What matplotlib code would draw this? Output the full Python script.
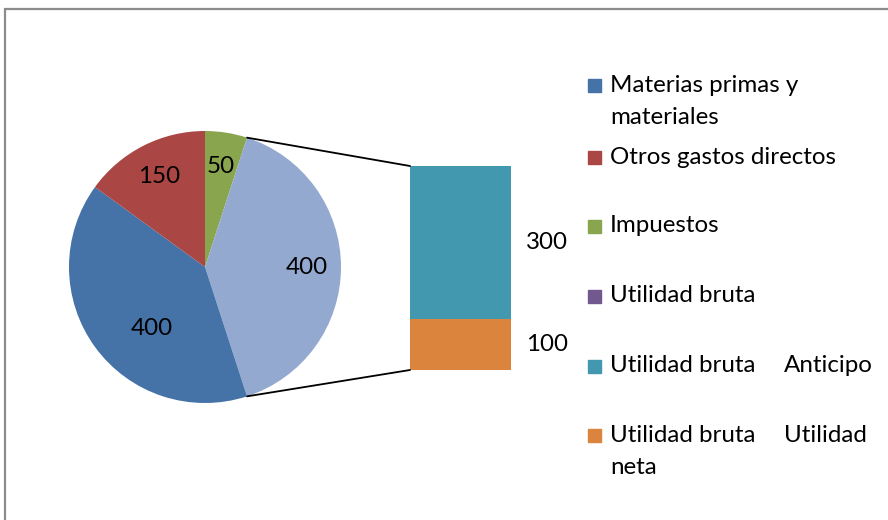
import numpy as np
import matplotlib.pyplot as plt
from matplotlib.patches import Rectangle, ConnectionPatch

plt.rcParams['font.family'] = ['Lato', 'DejaVu Sans']

# --- data ---
pie_labels = ["Impuestos", "Otros", "Materias primas y materiales", "Otros gastos directos"]
pie_values = [50, 400, 400, 150]
pie_colors = ["#89A54E", "#93A9CF", "#4572A7", "#AA4643"]

bar_labels = ["Utilidad neta", "Anticipo"]
bar_values = [100, 300]
bar_colors = ["#DB843D", "#4198AF"]

# '\t' = excel tab stop, '\n' = wrapped line
legend_labels = ["Materias primas y\nmateriales", "Otros gastos directos", "Impuestos",
                 "Utilidad bruta", "Utilidad bruta\tAnticipo",
                 "Utilidad bruta\tUtilidad\nneta"]
legend_colors = ["#4572A7", "#AA4643", "#89A54E", "#71588F", "#4198AF", "#DB843D"]

W, H = 888, 520
FS = 17.4
fig = plt.figure(figsize=(W / 100, H / 100), dpi=100)

# overlay axes in pixel coords for border + legend
ov = fig.add_axes([0, 0, 1, 1])
ov.set_xlim(0, W)
ov.set_ylim(H, 0)
ov.axis('off')
ov.plot([5, 5, W], [H, 9, 9], color="#8C8C8C", lw=1.6, solid_joinstyle='miter')

# --- pie ---
cx, cy, r = 205, 267, 136
ax_pie = fig.add_axes([(cx - r) / W, (H - cy - r) / H, 2 * r / W, 2 * r / H])
wedges, texts = ax_pie.pie(pie_values, colors=pie_colors, startangle=90, counterclock=False,
                           labels=[str(v) for v in pie_values], labeldistance=0.75,
                           textprops=dict(fontsize=FS, color="black", ha='center', va='center'))
ax_pie.set_xlim(-1, 1)
ax_pie.set_ylim(-1, 1)
# excel puts the big dark-blue label a bit closer to the centre
texts[2].set_position((-0.39, -0.45))

# --- bar ---
bx0, bx1, by0, by1 = 410, 511, 166, 370
ax_bar = fig.add_axes([bx0 / W, (H - by1) / H, (bx1 - bx0) / W, (by1 - by0) / H])
bottom = 0
for v, c in zip(bar_values, bar_colors):
    ax_bar.bar(0, v, bottom=bottom, width=1, color=c)
    ax_bar.annotate(str(v), xy=(0.5, bottom + v / 2), xytext=(11, 0), textcoords='offset points',
                    ha='left', va='center', fontsize=FS)
    bottom += v
ax_bar.set_xlim(-0.5, 0.5)
ax_bar.set_ylim(0, sum(bar_values))
ax_bar.axis('off')

# --- connector lines from the "Otros" wedge to the bar ---
w = wedges[1]
for ang, yb in [(w.theta2, sum(bar_values)), (w.theta1, 0)]:
    a = np.deg2rad(ang)
    con = ConnectionPatch(xyA=(np.cos(a), np.sin(a)), coordsA=ax_pie.transData,
                          xyB=(-0.5, yb), coordsB=ax_bar.transData, color="black", lw=1.3)
    fig.add_artist(con)

# --- legend (manual, excel-like spacing) ---
leg_y = [85, 157, 226, 296, 366, 435]
for lab, c, y in zip(legend_labels, legend_colors, leg_y):
    ov.add_patch(Rectangle((588, y - 6.5), 13, 13, color=c))
    for i, line in enumerate(lab.split("\n")):
        for j, part in enumerate(line.split("\t")):
            ov.text(610 if j == 0 else 784, y + i * 32, part, ha='left', va='center',
                    fontsize=FS)

fig.savefig("out.png", dpi=100)
